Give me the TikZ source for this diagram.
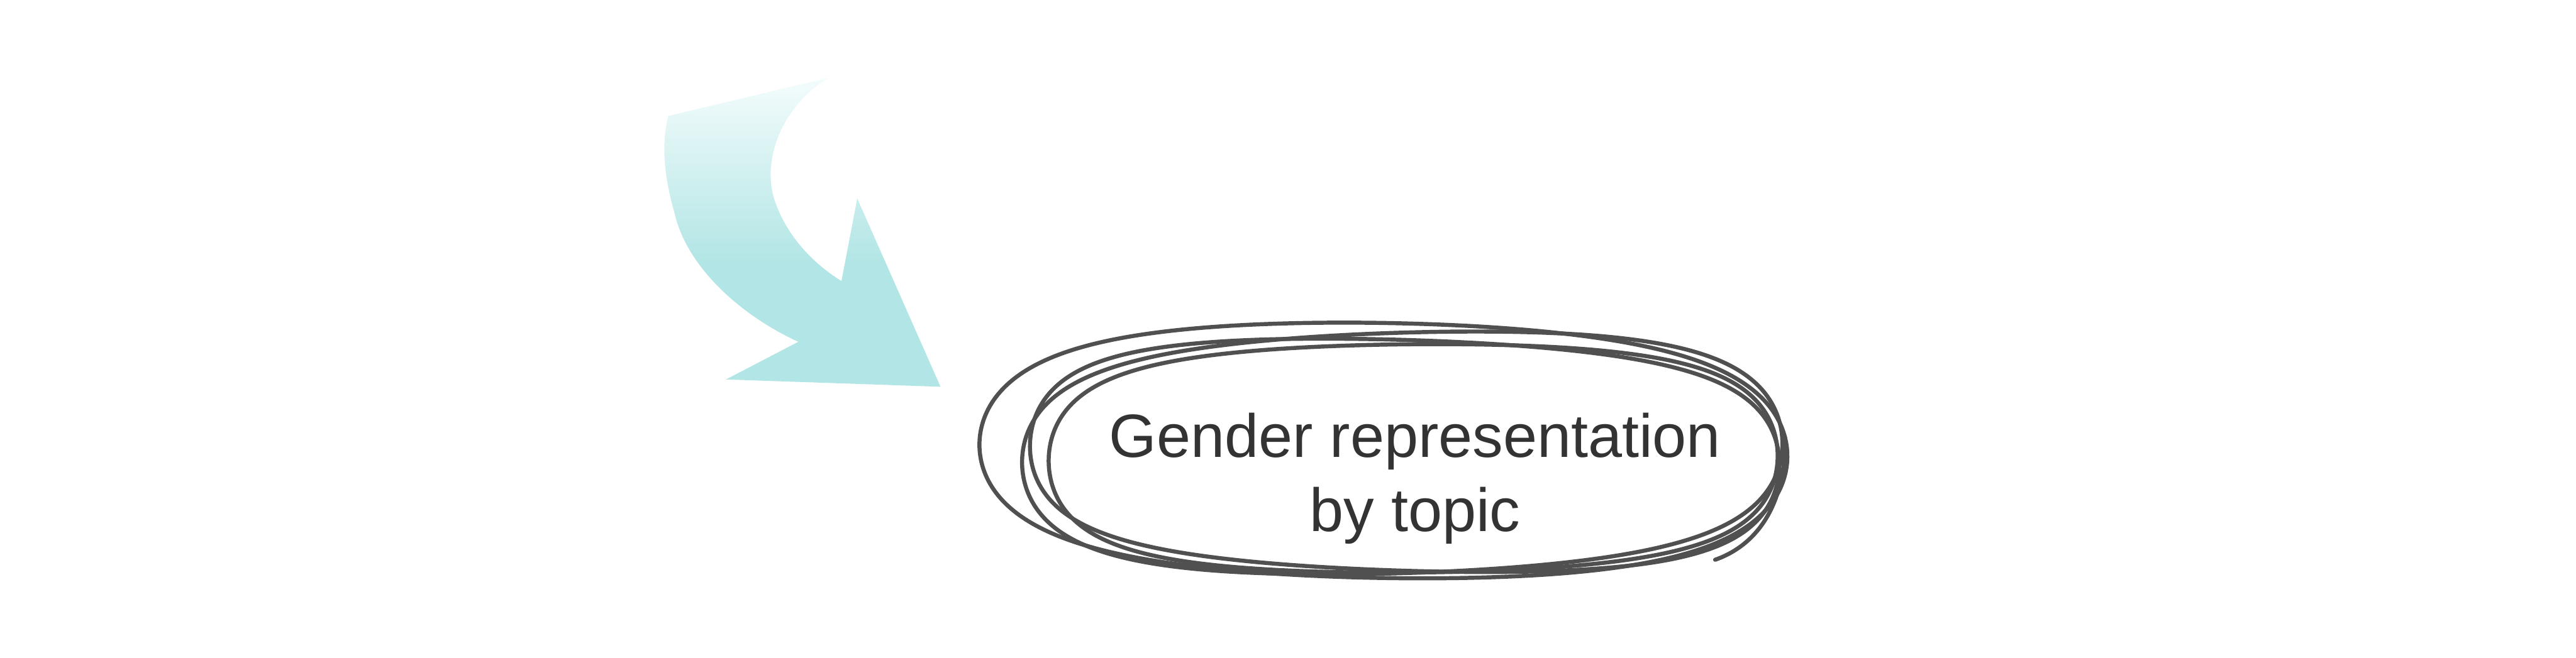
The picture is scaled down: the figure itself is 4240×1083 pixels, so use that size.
\documentclass[tikz,border=0pt]{standalone}
\usepackage{fontspec}
\newfontfamily\topicfont{Liberation Sans}
\usepackage{xcolor}
\definecolor{scribblegray}{HTML}{505050}
\definecolor{textgray}{HTML}{333333}
\definecolor{arrowteal}{HTML}{B2E5E5}
\definecolor{arrowpale}{HTML}{F4FCFC}
\pgfdeclareverticalshading{arrowfade}{100bp}{color(0bp)=(arrowteal); color(45bp)=(arrowteal); color(75bp)=(arrowpale); color(100bp)=(arrowpale)}
% one scribbled loop: centre x, centre y, half width, half height, squareness
\newcommand{\ringloop}[5]{plot[domain=0:355,samples=72,smooth cycle,tension=0.6]
  ({#1+#3*(cos(\x)+#5*(cos(\x)-cos(\x)*cos(\x)*cos(\x)))},{#2+#4*(sin(\x)+#5*(sin(\x)-sin(\x)*sin(\x)*sin(\x)))})}

\begin{document}
\begin{tikzpicture}[x=0.01cm,y=-0.01cm,
  scribble/.style={draw=scribblegray,line width=1.9pt,line cap=round,line join=round},
  topic/.style={font=\topicfont\fontsize{28.6pt}{34.7pt}\selectfont,text=textgray,align=center,inner sep=0pt}]
\useasboundingbox (0,0) rectangle (4240,1083);
% curved arrow
\shade[shading=arrowfade] (1100,191) -- (1364,128)
  .. controls (1280,180) and (1255,270) .. (1275,330)
  .. controls (1295,390) and (1340,435) .. (1385,463)
  -- (1411,327) -- (1548,637) -- (1195,625) -- (1314,563)
  .. controls (1220,520) and (1130,440) .. (1110,350)
  .. controls (1090,280) and (1090,230) .. (1100,191) -- cycle;
% scribbled ring
\draw[scribble,rotate around={-1:(2277,742)}] \ringloop{2277}{742}{665}{210}{0.15};
\draw[scribble,rotate around={1.8:(2308,746)}] \ringloop{2308}{746}{626}{198}{0.18};
\draw[scribble,rotate around={-1.8:(2312,750)}] \ringloop{2312}{750}{617}{190}{0.2};
\draw[scribble,rotate around={0.5:(2326,755)}] \ringloop{2326}{755}{600}{188}{0.2};
\draw[scribble] (2938,720) .. controls (2940,820) and (2900,895) .. (2823,922);
\node[topic] (topic) at (2329,788) {Gender representation\\by topic};
\end{tikzpicture}
\end{document}
